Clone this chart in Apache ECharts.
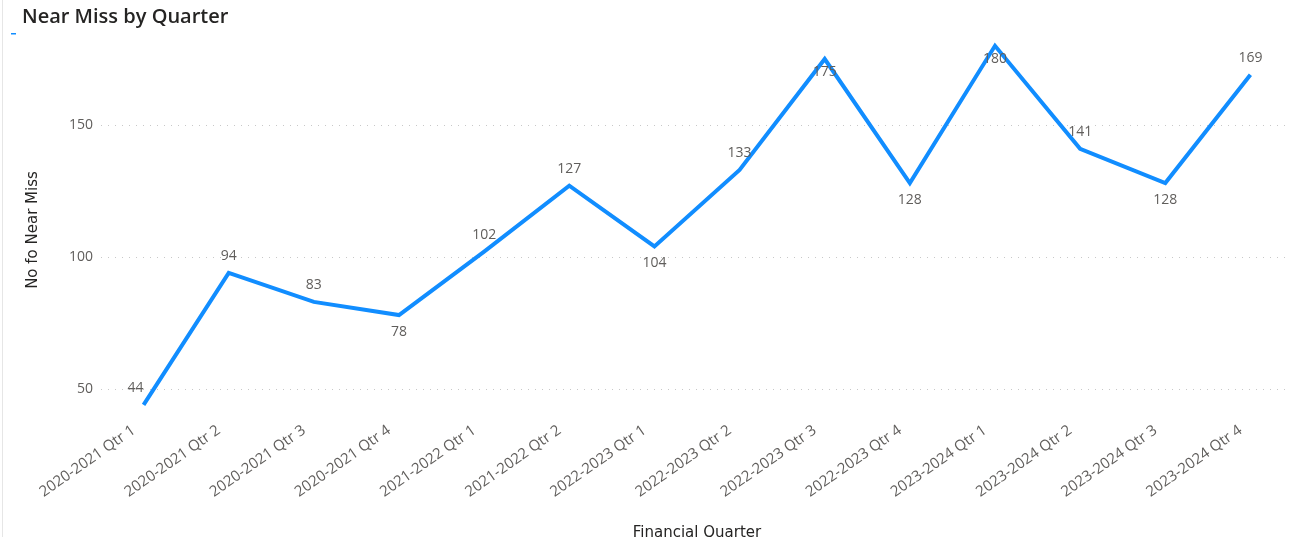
<!DOCTYPE html>
<html>
<head>
<meta charset="utf-8">
<title>Near Miss by Quarter</title>
<script src="https://cdn.jsdelivr.net/npm/echarts@6/dist/echarts.min.js"></script>
<style>
  html, body { margin: 0; padding: 0; background: #fff; }
  #chart { width: 1290px; height: 537px; }
</style>
</head>
<body>
<div id="chart"></div>
<script>
// data
const quarters = [
  '2020-2021 Qtr 1', '2020-2021 Qtr 2', '2020-2021 Qtr 3', '2020-2021 Qtr 4',
  '2021-2022 Qtr 1', '2021-2022 Qtr 2', '2022-2023 Qtr 1', '2022-2023 Qtr 2',
  '2022-2023 Qtr 3', '2022-2023 Qtr 4', '2023-2024 Qtr 1', '2023-2024 Qtr 2',
  '2023-2024 Qtr 3', '2023-2024 Qtr 4'
];
const nearMiss = [44, 94, 83, 78, 102, 127, 104, 133, 175, 128, 180, 141, 128, 169];
const yTicks = [50, 100, 150];

// which labels sit under the line (like power bi does it)
const labelBelow = [3, 6, 8, 9, 10, 12];

const chart = echarts.init(document.getElementById('chart'));

const seriesData = nearMiss.map((v, i) => {
  const item = { value: v };
  if (labelBelow.includes(i)) {
    item.label = { position: 'bottom', distance: i === 8 || i === 10 ? 6 : 10 };
  }
  if (i === 0) {
    item.label = { offset: [-8, 0] }; // first label sits a bit left
  }
  return item;
});

const option = {
  animation: false,
  title: {
    text: 'Near Miss by Quarter',
    left: 17,
    top: 2,
    textStyle: { fontFamily: 'Open Sans', fontSize: 20, fontWeight: 600, color: '#252423' }
  },
  graphic: [
    { type: 'rect', shape: { x: 2, y: 0, width: 1, height: 537 }, style: { fill: '#e6e6e6' } },
    { type: 'rect', shape: { x: 11, y: 33, width: 5, height: 1.5 }, style: { fill: '#118DFF' } }
  ],
  grid: {
    left: 101,
    right: -3,
    top: 125,
    bottom: 537 - 389,
    containLabel: false,
    outerBoundsMode: 'none'
  },
  xAxis: {
    type: 'category',
    data: quarters,
    boundaryGap: true,
    name: 'Financial Quarter',
    nameLocation: 'middle',
    nameGap: 137,
    nameTextStyle: { fontFamily: 'DejaVu Sans', fontSize: 15, color: '#252423' },
    axisLine: { show: false },
    axisTick: { show: false },
    axisLabel: {
      rotate: 35,
      margin: 33,
      padding: [0, 12, 0, 0],
      fontFamily: 'Open Sans',
      fontSize: 15,
      color: '#605E5C'
    }
  },
  yAxis: {
    type: 'value',
    min: yTicks[0],
    max: yTicks[yTicks.length - 1],
    interval: 50,
    name: 'No fo Near Miss',
    nameLocation: 'middle',
    nameGap: 60,
    nameTextStyle: { fontFamily: 'DejaVu Sans', fontSize: 15, color: '#252423', padding: [0, 0, 0, 54] },
    axisLine: { show: false },
    axisTick: { show: false },
    axisLabel: { margin: 8, fontFamily: 'Open Sans', fontSize: 14, color: '#605E5C' },
    splitLine: { lineStyle: { type: [1, 6], color: '#c8c8c8', width: 1 } }
  },
  series: [{
    name: 'No fo Near Miss',
    type: 'line',
    data: seriesData,
    clip: false,
    showSymbol: true,
    symbol: 'circle',
    symbolSize: 0.1,
    itemStyle: { color: '#118DFF' },
    lineStyle: { color: '#118DFF', width: 4, join: 'miter' },
    label: {
      show: true,
      position: 'top',
      distance: 10,
      fontFamily: 'Open Sans',
      fontSize: 14,
      color: '#605E5C'
    }
  }]
};

chart.setOption(option);
</script>
</body>
</html>
